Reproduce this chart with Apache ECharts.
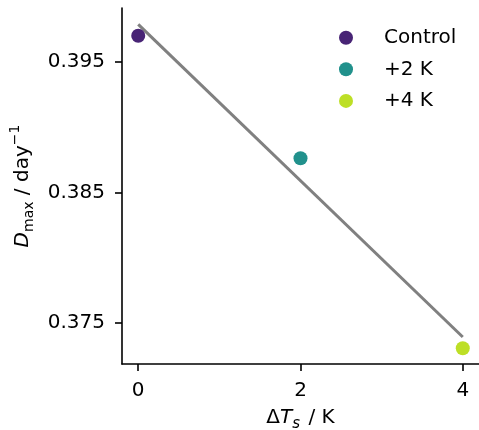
<!DOCTYPE html>
<html>
<head>
<meta charset="utf-8">
<script src="https://cdn.jsdelivr.net/npm/echarts@6/dist/echarts.min.js"></script>
<style>
  html, body { margin: 0; padding: 0; background: #fff; }
  #chart { width: 479px; height: 430px; }
</style>
</head>
<body>
<div id="chart"></div>
<script>
// Surface warming experiments and their maximum dissipation rate
const runNames = ['Control', '+2 K', '+4 K'];
const warming = [0, 2, 4];
const dmax = [0.39701, 0.38762, 0.37307];
const runColors = ['#482475', '#21918c', '#bddf26'];

// Least-squares fit line end points
const fitX = [0, 4];
const fitY = [0.39787, 0.37393];

// Tick positions
const xTicks = [0, 2, 4];
const yTicks = [0.375, 0.385, 0.395];

const FONT = 'DejaVu Sans';
const axisLineStyle = { color: '#000', width: 1.6 };

const scatterSeries = runNames.map((name, i) => ({
  name: name,
  type: 'scatter',
  data: [[warming[i], dmax[i]]],
  symbol: 'circle',
  symbolSize: 14,
  itemStyle: { color: runColors[i], opacity: 1 },
  z: 3
}));

const option = {
  animation: false,
  backgroundColor: '#fff',
  textStyle: { fontFamily: FONT },
  grid: {
    left: 122, right: 0, top: 8, bottom: 66,
    containLabel: false,
    outerBoundsMode: 'none'
  },
  legend: {
    data: runNames,
    orient: 'vertical',
    left: 339,
    top: 27.7,
    padding: 0,
    icon: 'circle',
    itemWidth: 14,
    itemHeight: 14,
    itemGap: 11.6,
    textStyle: {
      fontFamily: FONT,
      fontSize: 20,
      color: '#000',
      lineHeight: 20,
      padding: [0, 0, 0, 26]
    }
  },
  xAxis: {
    type: 'value',
    min: -0.2,
    max: 4.2,
    splitLine: { show: false },
    axisLine: { show: true, onZero: false, lineStyle: axisLineStyle },
    axisTick: { show: true, length: 7, lineStyle: axisLineStyle, customValues: xTicks },
    axisLabel: {
      customValues: xTicks,
      fontFamily: FONT, fontSize: 20, color: '#000', margin: 17
    },
    name: '{d|Δ}{it|T}{sub|s}{d| / K}',
    nameLocation: 'middle',
    nameGap: 40,
    nameTextStyle: {
      rich: {
        d: { fontFamily: FONT, fontSize: 20, color: '#000', lineHeight: 28 },
        it: { fontFamily: FONT, fontSize: 20, fontStyle: 'italic', color: '#000', lineHeight: 28 },
        sub: { fontFamily: FONT, fontSize: 15, fontStyle: 'italic', color: '#000', lineHeight: 14, verticalAlign: 'bottom', padding: [0, 2, 0, 0] }
      }
    }
  },
  yAxis: {
    type: 'value',
    min: 0.37186,
    max: 0.39913,
    splitLine: { show: false },
    axisLine: { show: true, onZero: false, lineStyle: axisLineStyle },
    axisTick: { show: true, length: 7, lineStyle: axisLineStyle, customValues: yTicks },
    axisLabel: {
      customValues: yTicks,
      formatter: v => v.toFixed(3),
      fontFamily: FONT, fontSize: 20, color: '#000', margin: 17
    },
    name: '{it|D}{sub|max}{d| / day}{sup|−1}',
    nameLocation: 'middle',
    nameRotate: 90,
    nameGap: 76,
    nameTextStyle: {
      rich: {
        d: { fontFamily: FONT, fontSize: 20, color: '#000', lineHeight: 28 },
        it: { fontFamily: FONT, fontSize: 20, fontStyle: 'italic', color: '#000', lineHeight: 28 },
        sub: { fontFamily: FONT, fontSize: 14, color: '#000', lineHeight: 14, verticalAlign: 'bottom' },
        sup: { fontFamily: FONT, fontSize: 14, color: '#000', lineHeight: 12, verticalAlign: 'top' }
      }
    }
  },
  series: [
    {
      name: 'fit',
      type: 'line',
      data: fitX.map((x, i) => [x, fitY[i]]),
      showSymbol: false,
      symbol: 'none',
      lineStyle: { color: '#808080', width: 3 },
      z: 2,
      silent: true
    },
    ...scatterSeries
  ]
};

const chart = echarts.init(document.getElementById('chart'), null, { renderer: 'canvas' });
chart.setOption(option);
</script>
</body>
</html>
